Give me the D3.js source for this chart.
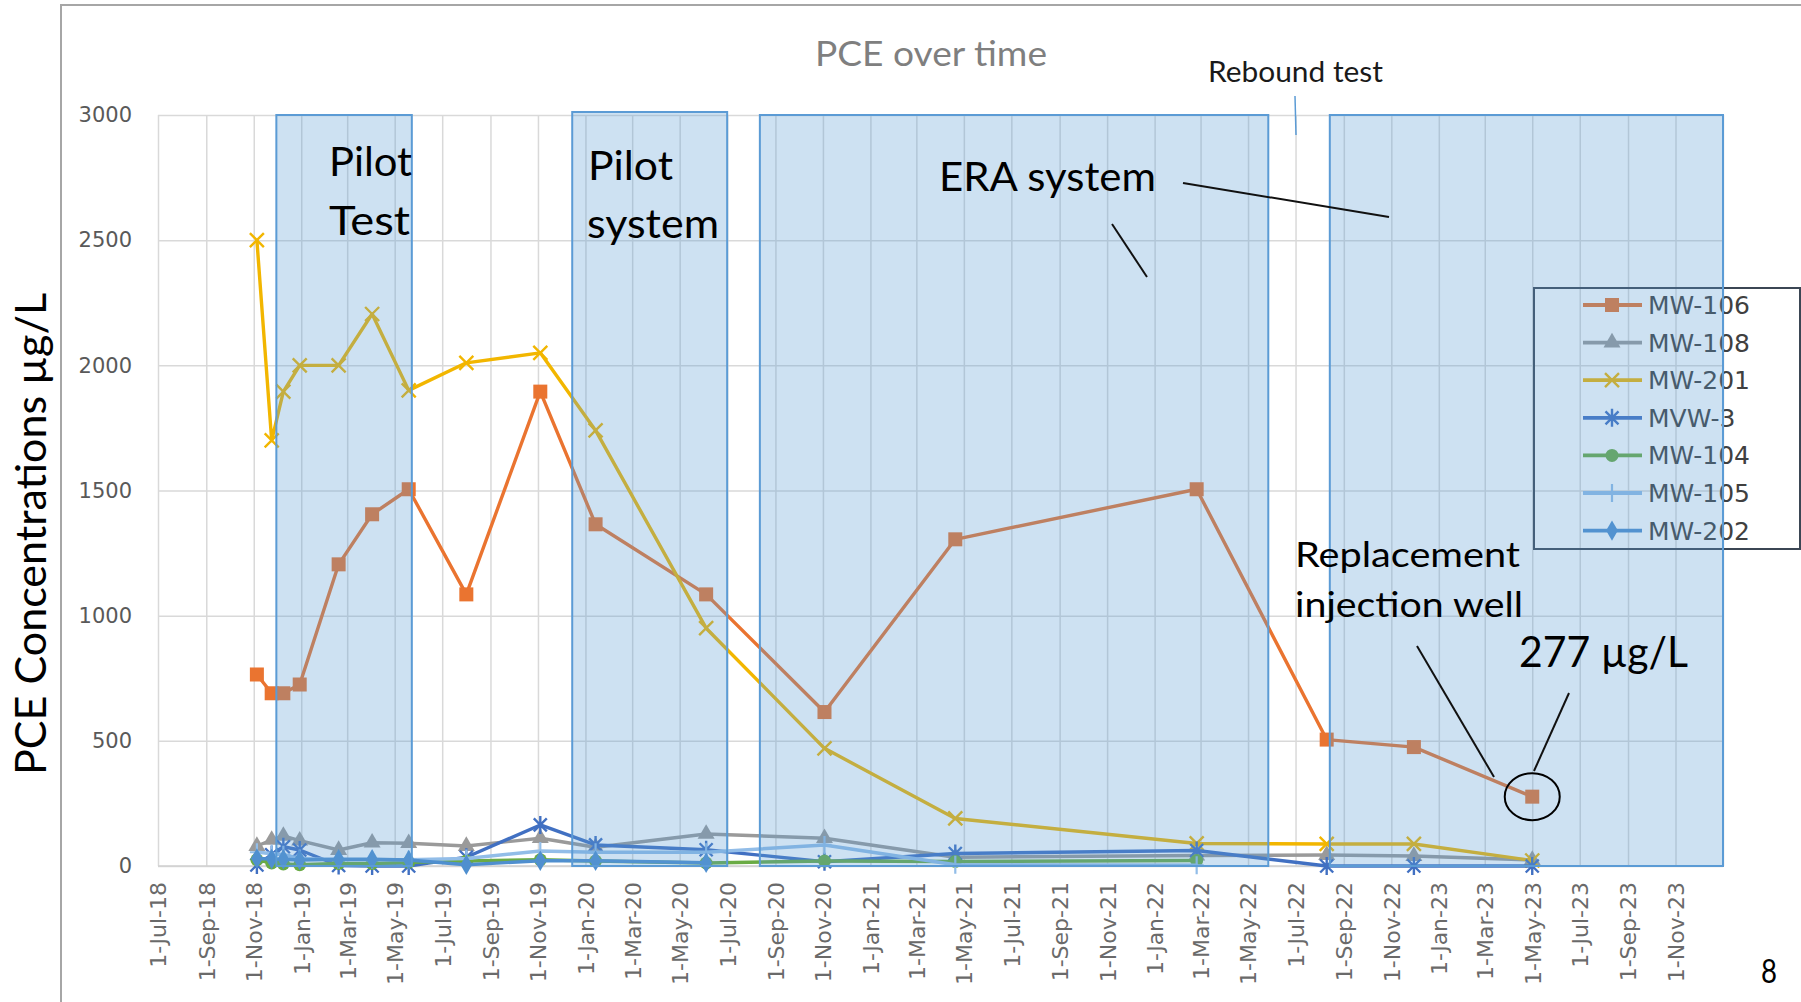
<!DOCTYPE html>
<html><head><meta charset="utf-8">
<script src="https://cdn.jsdelivr.net/npm/d3@7"></script>
<style>body{margin:0;background:#fff;overflow:hidden}svg{display:block}</style>
</head><body>
<svg id="c" width="1801" height="1002"></svg>
<script>
// ---------- DATA ----------
const sampleDates = ["2018-11-05","2018-11-24","2018-12-09","2018-12-30","2019-02-18","2019-04-02","2019-05-19","2019-08-01","2019-11-04","2020-01-14","2020-06-04","2020-11-03","2021-04-20","2022-02-24","2022-08-10","2022-11-30","2023-05-01"];
const mw106 = [765, 690, 690, 725, 1205, 1405, 1505, 1085, 1895, 1365, 1085, 615, 1305, 1505, 505, 475, 277];
const mw108 = [80, 104, 120, 101, 64, 93, 91, 80, 111, 75, 128, 111, 35, 42, 44, 40, 24];
const mw201 = [2500, 1700, 1895, 2000, 2000, 2205, 1900, 2010, 2050, 1740, 950, 470, 190, 90, 88, 88, 22];
const mvw3  = [4, 45, 77, 64, 2, 0, 0, 35, 164, 84, 65, 17, 50, 62, 0, 0, 0];
const mw104 = [25, 12, 8, 5, 10, 10, 15, 20, 25, 20, 12, 20, 18, 22, null, null, null];
const mw105 = [55, 50, 45, 30, 25, 25, 25, 30, 60, 55, 55, 84, 5, 3, null, null, null];
const mw202 = [30, 28, 27, 24, 27, 27, 24, 5, 21, 21, 13, null, null, null, null, null, null];
const seriesNames = ["MW-106","MW-108","MW-201","MVW-3","MW-104","MW-105","MW-202"];
const seriesValues = [mw106, mw108, mw201, mvw3, mw104, mw105, mw202];
const xTickLabels = ["1-Jul-18","1-Sep-18","1-Nov-18","1-Jan-19","1-Mar-19","1-May-19","1-Jul-19","1-Sep-19","1-Nov-19","1-Jan-20","1-Mar-20","1-May-20","1-Jul-20","1-Sep-20","1-Nov-20","1-Jan-21","1-Mar-21","1-May-21","1-Jul-21","1-Sep-21","1-Nov-21","1-Jan-22","1-Mar-22","1-May-22","1-Jul-22","1-Sep-22","1-Nov-22","1-Jan-23","1-Mar-23","1-May-23","1-Jul-23","1-Sep-23","1-Nov-23"];
const yTicks = [0, 500, 1000, 1500, 2000, 2500, 3000];
const phaseStart = ["2018-11-30","2019-12-15","2020-08-12","2022-08-14"];
const phaseEnd   = ["2019-05-23","2020-07-01","2022-05-27","2024-01-01"];
const phaseTop   = [3000, 3012, 3000, 3000];

// ---------- STYLE ----------
const colors  = ["#ea7430","#9a9a9a","#f2b600","#4170c2","#6aab44","#92bde8","#4f8fcf"];
const markers = ["square","triangle","x","star","circle","plus","diamond"];

const parse = d3.timeParse("%Y-%m-%d");
const parseTick = d3.timeParse("%d-%b-%y");
const svg = d3.select("#c");
const L = 158, R = 1723, T = 115, B = 866;
const x = d3.scaleTime().domain([parse("2018-07-01"), parse("2024-01-01")]).range([L, R]);
const y = d3.scaleLinear().domain([0, 3000]).range([B, T]);

// outer chart border
svg.append("path").attr("d","M61,1002V5H1801").attr("fill","none").attr("stroke","#a6a6a6").attr("stroke-width",2);

// y axis + horizontal grid
const gy = svg.append("g").attr("transform",`translate(${L},0)`)
  .call(d3.axisLeft(y).tickValues(yTicks).tickSize(-(R-L)).tickPadding(26).tickFormat(d3.format("d")));
gy.select(".domain").remove();
gy.selectAll("line").attr("stroke","#d9d9d9").attr("stroke-width",1.5);
gy.selectAll("text").attr("fill","#595959").style("font-family","DejaVu Sans").style("font-size","21px");

// x axis + vertical grid
const tickDates = xTickLabels.map(s => parseTick(s)).concat([parse("2024-01-01")]);
const gx = svg.append("g").attr("transform",`translate(0,${B})`)
  .call(d3.axisBottom(x).tickValues(tickDates).tickSize(-(B-T)).tickFormat((d,i)=> xTickLabels[i] || ""));
gx.select(".domain").remove();
gx.selectAll("line").attr("stroke","#d9d9d9").attr("stroke-width",1.5);
gx.selectAll("text").attr("fill","#6a6a6a").style("font-family","DejaVu Sans").style("font-size","22px")
  .attr("transform","rotate(-90)").attr("text-anchor","end").attr("x",-16).attr("y",0).attr("dy","0.36em");
// bottom baseline
svg.append("line").attr("x1",L).attr("x2",R).attr("y1",B).attr("y2",B).attr("stroke","#d0d0d0").attr("stroke-width",1.5);

// markers
function drawMarker(g, type, color, size) {
  const s = size || 1;
  if (type === "square") g.append("rect").attr("x",-7*s).attr("y",-7*s).attr("width",14*s).attr("height",14*s).attr("fill",color);
  else if (type === "triangle") g.append("path").attr("d", d3.symbol(d3.symbolTriangle, 125*s*s)()).attr("fill",color);
  else if (type === "diamond") g.append("path").attr("d", d3.symbol(d3.symbolDiamond, 120*s*s)()).attr("fill",color);
  else if (type === "circle") g.append("circle").attr("r",6.5*s).attr("fill",color);
  else if (type === "x") g.append("path").attr("d","M-7,-7L7,7M-7,7L7,-7").attr("stroke",color).attr("stroke-width",2.4).attr("fill","none");
  else if (type === "star") g.append("path").attr("d","M-6.5,-6.5L6.5,6.5M-6.5,6.5L6.5,-6.5M0,-9V9").attr("stroke",color).attr("stroke-width",2.4).attr("fill","none");
  else if (type === "plus") g.append("path").attr("d","M0,-9V9M-7,0H7").attr("stroke",color).attr("stroke-width",2.2).attr("fill","none");
}

// series
const line = d3.line().x(p => x(p.d)).y(p => y(p.v));
seriesNames.forEach((name, si) => {
  const pts = sampleDates.map((d,i)=>({d:parse(d), v:seriesValues[si][i]})).filter(p => p.v != null);
  const g = svg.append("g").attr("class","series");
  g.append("path").attr("d", line(pts)).attr("fill","none").attr("stroke",colors[si])
    .attr("stroke-width",3.4).attr("stroke-linejoin","round").attr("stroke-linecap","round");
  g.selectAll("g.m").data(pts).join("g").attr("class","m")
    .attr("transform", p => `translate(${x(p.d)},${y(p.v)})`)
    .each(function(){ drawMarker(d3.select(this), markers[si], colors[si]); });
});

// legend
const lg = svg.append("g");
lg.append("rect").attr("x",1534).attr("y",288).attr("width",266).attr("height",261)
  .attr("fill","none").attr("stroke","#3b4654").attr("stroke-width",2);
seriesNames.forEach((name, i) => {
  const cy = 305 + i*37.6;
  lg.append("line").attr("x1",1583).attr("x2",1642).attr("y1",cy).attr("y2",cy)
    .attr("stroke",colors[i]).attr("stroke-width",3.8);
  drawMarker(lg.append("g").attr("transform",`translate(1612,${cy})`), markers[i], colors[i]);
  lg.append("text").attr("x",1648).attr("y",cy+9).text(name)
    .attr("fill","#404040").style("font-family","DejaVu Sans").style("font-size","25px");
});

// phase overlays
phaseStart.forEach((s,i) => {
  const x0 = x(parse(s)), x1 = Math.min(x(parse(phaseEnd[i])), R+2);
  svg.append("rect").attr("x",x0).attr("y",y(phaseTop[i])).attr("width",x1-x0).attr("height",B-y(phaseTop[i]))
    .attr("fill","#5b9bd5").attr("fill-opacity",0.3).attr("stroke","#5b9bd5").attr("stroke-width",2);
});

// annotations
const ann = svg.append("g").style("font-family","Lato").attr("fill","#000");
function txt(s, xx, yy, size, len, fill, anchor) {
  const t = ann.append("text").attr("x",xx).attr("y",yy).text(s).style("font-size",size+"px")
    .attr("fill", fill || "#000").attr("text-anchor", anchor || "start");
  if (len) t.attr("textLength",len).attr("lengthAdjust","spacingAndGlyphs");
  return t;
}
txt("PCE over time", 931, 66, 35, 232, "#7f7f7f", "middle");
txt("Rebound test", 1208, 82, 28, 175, "#1a1a1a");
txt("Pilot", 329, 176, 40, 83);
txt("Test", 329, 235, 40, 81);
txt("Pilot", 588, 180, 40, 85);
txt("system", 587, 238, 40, 132);
txt("ERA system", 939, 191, 40, 217);
txt("Replacement", 1295, 567, 34, 225);
txt("injection well", 1295, 617, 34, 228);
txt("277 µg/L", 1519, 667, 42, 169);
txt("8", 1761, 983, 32, 16);
ann.append("text").attr("transform","translate(46,534) rotate(-90)").attr("text-anchor","middle")
  .text("PCE Concentrations µg/L").style("font-size","42px").attr("fill","#000")
  .attr("textLength",482).attr("lengthAdjust","spacingAndGlyphs");

// leader lines
const leaders = [[1183,183,1389,217],[1112,224,1147,277],[1417,646,1494,777],[1569,693,1534,771]];
leaders.forEach(l => ann.append("line").attr("x1",l[0]).attr("y1",l[1]).attr("x2",l[2]).attr("y2",l[3])
  .attr("stroke","#111").attr("stroke-width",2));
// rebound tick
ann.append("line").attr("x1",1295).attr("x2",1296).attr("y1",96).attr("y2",135).attr("stroke","#5b9bd5").attr("stroke-width",1.5);
// circle around last MW-106 point
ann.append("ellipse").attr("cx", x(parse(sampleDates[16]))).attr("cy", y(mw106[16]))
  .attr("rx",27.5).attr("ry",23.5).attr("fill","none").attr("stroke","#000").attr("stroke-width",2);
</script>
</body></html>
